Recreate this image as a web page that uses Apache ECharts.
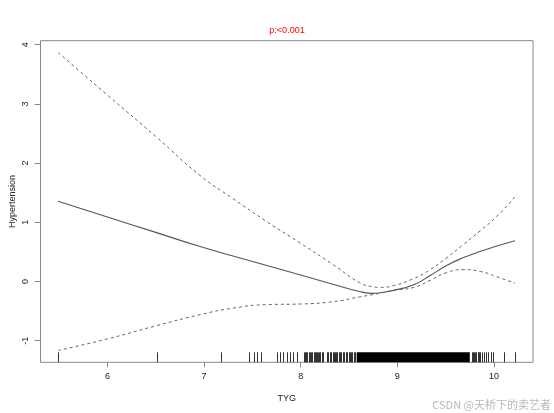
<!DOCTYPE html>
<html>
<head>
<meta charset="utf-8">
<script src="https://cdn.jsdelivr.net/npm/echarts@6/dist/echarts.min.js"></script>
<style>html,body{margin:0;padding:0;background:#fff}#c{width:554px;height:413px}</style>
</head>
<body>
<div id="c"></div>
<script>
// Data
var tygX   = [5.49, 6.0, 6.5, 6.96, 7.3, 7.65, 8.0, 8.34, 8.61, 8.75, 8.82, 8.96, 9.17, 9.34, 9.51, 9.68, 9.86, 10.03, 10.217];
var fitY   = [1.355, 1.09, 0.83, 0.59, 0.43, 0.27, 0.11, -0.05, -0.17, -0.20, -0.19, -0.15, -0.055, 0.10, 0.27, 0.40, 0.51, 0.60, 0.69];
var upperY = [3.87, 3.15, 2.45, 1.79, 1.40, 1.01, 0.645, 0.28, -0.02, -0.09, -0.10, -0.07, 0.05, 0.20, 0.40, 0.62, 0.86, 1.10, 1.43];
var lowerY = [-1.165, -0.97, -0.75, -0.56, -0.45, -0.39, -0.38, -0.34, -0.26, -0.22, -0.20, -0.15, -0.10, 0.02, 0.15, 0.20, 0.17, 0.08, -0.03];
var rugSingles = [5.49, 6.51, 7.18, 7.47, 7.52, 7.55, 7.59, 7.75, 7.79, 7.82, 7.86, 7.89, 7.92, 7.96,
  8.03, 8.045, 8.06, 8.07, 8.085, 8.10, 8.11, 8.12, 8.135, 8.15, 8.16, 8.17, 8.18, 8.19, 8.20, 8.22, 8.23,
  8.27, 8.285, 8.30, 8.31, 8.33, 8.34, 8.355, 8.37, 8.38, 8.40, 8.41, 8.42, 8.44, 8.45, 8.47, 8.48,
  8.50, 8.51, 8.52, 8.53, 8.55, 8.56,
  9.77, 9.78, 9.79, 9.80, 9.81, 9.83, 9.84, 9.85, 9.86, 9.88, 9.90, 9.92, 9.94, 9.97, 9.99, 10.10, 10.217];
var rugBlocks = [[8.58, 9.75]];
var xTicks = [6, 7, 8, 9, 10];
var yTicks = [-1, 0, 1, 2, 3, 4];

var X_MIN = 5.308, X_MAX = 10.404, Y_MIN = -1.365, Y_MAX = 4.068;
function pairs(xs, ys){ return xs.map(function(x,i){ return [x, ys[i]]; }); }
var rugData = rugSingles.map(function(v){ return [v, v]; }).concat(rugBlocks);

var font = 'Arial, "Liberation Sans", sans-serif';
var chart = echarts.init(document.getElementById('c'), null, {renderer:'canvas'});
chart.setOption({
  animation: false,
  backgroundColor: '#fff',
  grid: {left: 40.5, right: 21, top: 40.7, bottom: 50.7, containLabel: false, outerBoundsMode: 'none',
         show: true, borderColor: '#888', borderWidth: 1, backgroundColor: 'transparent'},
  xAxis: {
    type: 'value', min: X_MIN, max: X_MAX,
    name: 'TYG', nameLocation: 'middle', nameGap: 32,
    nameTextStyle: {color: '#222', fontSize: 9, fontFamily: font},
    axisLine: {show: false, onZero: false},
    axisTick: {show: true, length: 5, customValues: xTicks, lineStyle: {color: '#888'}},
    axisLabel: {customValues: xTicks, color: '#222', fontSize: 9, fontFamily: font, margin: 10},
    splitLine: {show: false}
  },
  yAxis: {
    type: 'value', min: Y_MIN, max: Y_MAX,
    axisLine: {show: false, onZero: false},
    axisTick: {show: true, length: 6, customValues: yTicks, lineStyle: {color: '#888'}},
    axisLabel: {customValues: yTicks, rotate: 90, color: '#222', fontSize: 9, fontFamily: font, margin: 10},
    splitLine: {show: false}
  },
  graphic: [
    {type: 'text', x: 287, y: 31,
     style: {text: 'p:<0.001', fill: '#ff0000', fontSize: 9, fontFamily: font, align: 'center', verticalAlign: 'middle'}},
    {type: 'text', x: 13, y: 201.5, rotation: Math.PI / 2,
     style: {text: 'Hypertension', fill: '#222', fontSize: 9, fontFamily: font, align: 'center', verticalAlign: 'middle'}},
    {type: 'text', right: 3, bottom: 3,
     style: {text: 'CSDN @天桥下的卖艺者', fill: '#b8b8b8', fontSize: 11, fontFamily: '"Noto Sans CJK SC", sans-serif'}}
  ],
  series: [
    {type: 'line', data: pairs(tygX, fitY), smooth: 0.5, showSymbol: false,
     lineStyle: {color: '#555', width: 1.1}},
    {type: 'line', data: pairs(tygX, upperY), smooth: 0.5, showSymbol: false,
     lineStyle: {color: '#666', width: 1, type: [3, 3]}},
    {type: 'line', data: pairs(tygX, lowerY), smooth: 0.5, showSymbol: false,
     lineStyle: {color: '#666', width: 1, type: [3, 3]}},
    {type: 'custom', data: rugData,
     renderItem: function(params, api){
       var a = api.coord([api.value(0), Y_MIN]);
       var b = api.coord([api.value(1), Y_MIN]);
       var single = api.value(0) === api.value(1);
       if (single) {
         var x = Math.round(a[0]) + 0.5;
         return {type: 'line', shape: {x1: x, y1: a[1] - 10, x2: x, y2: a[1]},
                 style: {stroke: '#333', lineWidth: 1}};
       }
       return {type: 'rect', shape: {x: a[0], y: a[1] - 10, width: b[0] - a[0], height: 10},
               style: {fill: '#000'}};
     }}
  ]
});
</script>
</body>
</html>
